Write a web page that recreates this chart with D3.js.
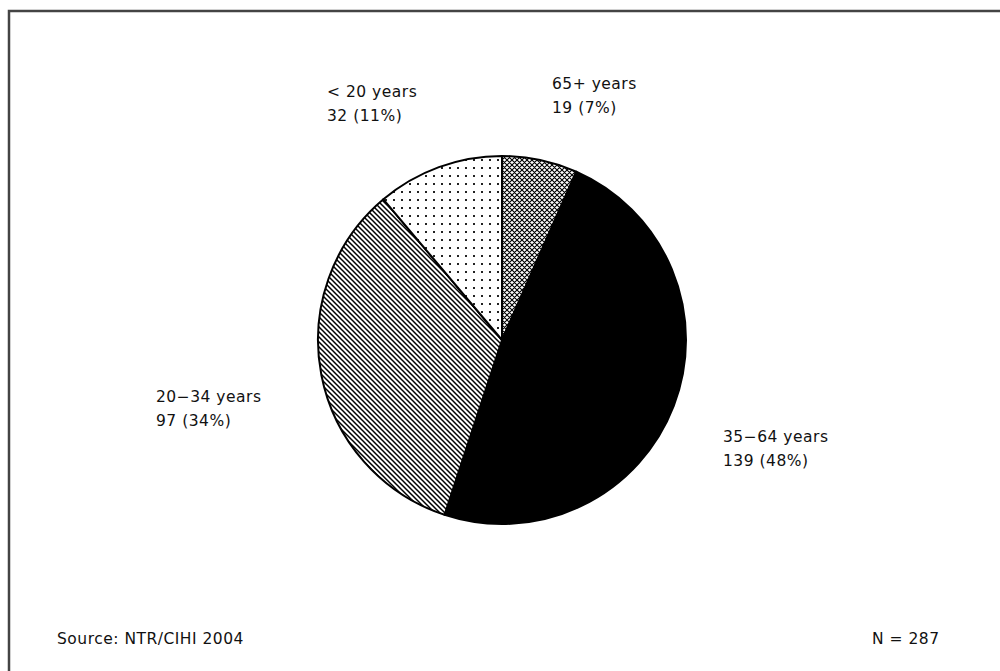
<!DOCTYPE html>
<html>
<head>
<meta charset="utf-8">
<script src="https://cdn.jsdelivr.net/npm/d3@7"></script>
<style>
  html, body { margin: 0; padding: 0; background: #fff; }
  svg { display: block; }
  text { font-family: "DejaVu Sans", "Liberation Sans", Arial, sans-serif; font-size: 15.5px; letter-spacing: 0.5px; fill: #111; }
</style>
</head>
<body>
<svg id="chart" width="1000" height="671"></svg>
<script>
// Age groups, clockwise from 12 o'clock
const categories = ["65+ years", "35\u221264 years", "20\u221234 years", "< 20 years"];
const counts = [19, 139, 97, 32];
const percents = ["7%", "48%", "34%", "11%"];
const fills = ["url(#cross)", "#000", "url(#stripes)", "url(#dots)"];
const sourceNote = "Source: NTR/CIHI 2004";
const total = d3.sum(counts);

const svg = d3.select("#chart");
const defs = svg.append("defs");

// Diamond crosshatch
const cross = defs.append("pattern").attr("id", "cross")
  .attr("patternUnits", "userSpaceOnUse").attr("width", 5).attr("height", 5);
cross.append("rect").attr("width", 5).attr("height", 5).attr("fill", "#fff");
cross.append("path").attr("d", "M0,0L5,5M5,0L0,5M-1,4L1,6M4,-1L6,1M-1,1L1,-1M4,6L6,4")
  .attr("stroke", "#000").attr("stroke-width", 1.1);

// Diagonal stripes running down to the right
const stripes = defs.append("pattern").attr("id", "stripes")
  .attr("patternUnits", "userSpaceOnUse").attr("width", 5).attr("height", 5);
stripes.append("rect").attr("width", 5).attr("height", 5).attr("fill", "#fff");
stripes.append("path").attr("d", "M0,0L5,5M-1,4L1,6M4,-1L6,1")
  .attr("stroke", "#000").attr("stroke-width", 1.5);

// Sparse dots
const dots = defs.append("pattern").attr("id", "dots")
  .attr("patternUnits", "userSpaceOnUse").attr("width", 8).attr("height", 8);
dots.append("rect").attr("width", 8).attr("height", 8).attr("fill", "#fff");
dots.append("rect").attr("x", 3).attr("y", 3).attr("width", 2).attr("height", 2).attr("fill", "#222");

// Outer frame
svg.append("rect").attr("x", 9).attr("y", 11).attr("width", 1000).attr("height", 700)
  .attr("fill", "none").attr("stroke", "#444").attr("stroke-width", 2.5);

const cx = 502, cy = 340, radius = 184;

const pie = d3.pie().sort(null).value(d => d)
  .startAngle(0).endAngle(2 * Math.PI);
const arc = d3.arc().innerRadius(0).outerRadius(radius);
const arcs = pie(counts);

const g = svg.append("g").attr("transform", `translate(${cx},${cy})`);
g.selectAll("path.slice").data(arcs).join("path")
  .attr("class", "slice")
  .attr("d", arc)
  .attr("fill", (d, i) => fills[i])
  .attr("stroke", "#000")
  .attr("stroke-width", 2)
  .attr("stroke-linejoin", "round");

// Label anchors (baseline of the first line) relative to the pie centre
const labelOffsets = [[50, -251], [221, 102], [-346, 62], [-175, -243]];
const labels = svg.append("g");
arcs.forEach((a, i) => {
  const [dx, dy] = labelOffsets[i];
  const t = labels.append("text")
    .attr("x", cx + dx).attr("y", cy + dy);
  t.append("tspan").attr("x", cx + dx).attr("dy", 0).text(categories[i]);
  t.append("tspan").attr("x", cx + dx).attr("dy", 24)
    .text(`${counts[i]} (${percents[i]})`);
});

svg.append("text").attr("x", 57).attr("y", 644).text(sourceNote);
svg.append("text").attr("x", 872).attr("y", 644).text(`N = ${total}`);
</script>
</body>
</html>
